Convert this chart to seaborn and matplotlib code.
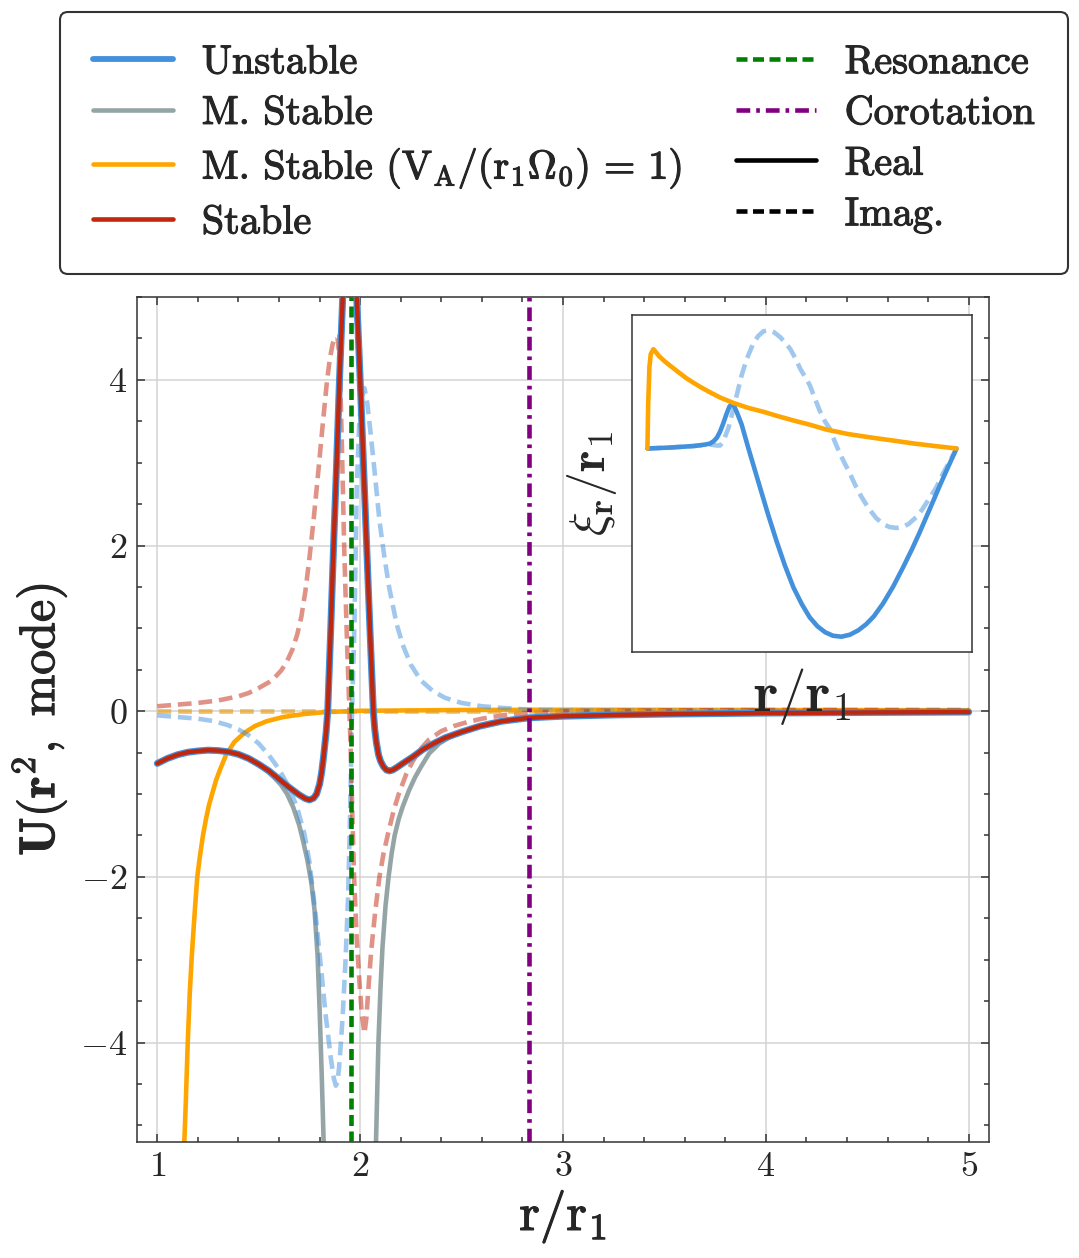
import numpy as np
import matplotlib
matplotlib.use('Agg')
import matplotlib.pyplot as plt
import matplotlib.patheffects as pe
from matplotlib.lines import Line2D
import seaborn as sns

sns.set_style('ticks')
plt.rcParams['font.family'] = ['cmr10', 'DejaVu Serif']
plt.rcParams['mathtext.fontset'] = 'cm'
plt.rcParams['axes.formatter.use_mathtext'] = True
plt.rcParams['axes.unicode_minus'] = True

# -----------------------------------------------------------------------------
# Data
# -----------------------------------------------------------------------------
# real part of the mode, shared by the unstable and stable branches
r_real = [1.00, 1.05, 1.10, 1.15, 1.20, 1.25, 1.30, 1.35, 1.40, 1.45, 1.50, 1.55,
          1.60, 1.65, 1.70, 1.73, 1.75, 1.77, 1.785, 1.80, 1.81, 1.82, 1.832, 1.84,
          1.855, 1.869, 1.884, 1.898, 1.914, 1.93, 1.948, 1.965, 1.983, 2.00, 2.016,
          2.032, 2.048, 2.065, 2.072, 2.08, 2.09, 2.10, 2.115, 2.13, 2.145, 2.16,
          2.18, 2.21, 2.26, 2.31, 2.37, 2.42, 2.50, 2.59, 2.70, 2.83, 3.00, 3.25,
          3.50, 4.00, 4.50, 5.00]
unstable_re = [-0.63, -0.57, -0.525, -0.495, -0.48, -0.47, -0.475, -0.49, -0.52, -0.57,
               -0.64, -0.72, -0.82, -0.92, -1.01, -1.055, -1.07, -1.05, -1.0, -0.88,
               -0.74, -0.54, -0.26, 0.0, 1.0, 2.0, 3.0, 4.0, 5.0, 6.4, 7.2, 6.4, 5.0,
               4.0, 3.0, 2.0, 1.0, 0.0, -0.22, -0.38, -0.52, -0.60, -0.67, -0.71, -0.72,
               -0.71, -0.68, -0.63, -0.55, -0.46, -0.38, -0.32, -0.25, -0.18, -0.12,
               -0.08, -0.06, -0.045, -0.035, -0.022, -0.015, -0.01]
stable_re = list(unstable_re)

r_mstab = [1.00, 1.10, 1.20, 1.30, 1.40, 1.45, 1.50, 1.55, 1.58, 1.61, 1.64, 1.67,
           1.70, 1.72, 1.74, 1.76, 1.775, 1.79, 1.80, 1.81, 1.82, 1.835, 2.07, 2.078,
           2.085, 2.09, 2.10, 2.11, 2.125, 2.14, 2.155, 2.17, 2.19, 2.21, 2.24, 2.27,
           2.30, 2.34, 2.39, 2.45, 2.52, 2.60, 2.70, 2.83, 3.00, 3.50, 4.00, 4.50,
           5.00]
mstab_re = [-0.63, -0.525, -0.48, -0.475, -0.52, -0.57, -0.645, -0.74, -0.81, -0.89,
            -1.0, -1.16, -1.38, -1.58, -1.80, -2.08, -2.4, -2.95, -3.6, -4.35, -5.2,
            -8.0, -8.0, -5.2, -4.5, -4.0, -3.35, -2.85, -2.35, -2.0, -1.72, -1.5,
            -1.3, -1.15, -0.96, -0.80, -0.67, -0.51, -0.39, -0.30, -0.23, -0.17,
            -0.12, -0.08, -0.06, -0.035, -0.022, -0.015, -0.01]

r_va = [1.12, 1.133, 1.14, 1.15, 1.16, 1.17, 1.185, 1.197, 1.21, 1.225, 1.24, 1.255,
        1.27, 1.29, 1.31, 1.34, 1.38, 1.43, 1.48, 1.54, 1.62, 1.72, 1.83, 2.00, 2.50,
        3.00, 4.00, 5.00]
va_re = [-7.5, -5.2, -4.75, -4.0, -3.4, -2.95, -2.4, -2.0, -1.75, -1.5, -1.3, -1.13,
         -1.0, -0.83, -0.7, -0.52, -0.37, -0.26, -0.18, -0.12, -0.07, -0.035, -0.01,
         0.005, 0.015, 0.018, 0.015, 0.012]
r_va_im = [1.00, 5.00]
va_im = [0.0, 0.0]

# imaginary parts
r_stab_im = [1.00, 1.10, 1.20, 1.30, 1.40, 1.45, 1.50, 1.55, 1.58, 1.61, 1.635, 1.667,
             1.69, 1.71, 1.73, 1.75, 1.77, 1.79, 1.815, 1.835, 1.85, 1.865, 1.878,
             1.888, 1.895, 1.902, 1.91, 1.922, 1.935, 1.947, 1.955, 1.962, 1.97, 1.983,
             1.996, 2.008, 2.021, 2.03, 2.042, 2.054, 2.075, 2.095, 2.115, 2.14, 2.165,
             2.19, 2.227, 2.26, 2.30, 2.34, 2.40, 2.46, 2.53, 2.60, 2.70, 2.83, 3.00,
             3.50, 4.00, 5.00]
stable_im = [0.06, 0.08, 0.10, 0.13, 0.18, 0.22, 0.28, 0.35, 0.41, 0.49, 0.58, 0.75,
             0.93, 1.14, 1.45, 1.85, 2.3, 2.8, 3.45, 3.95, 4.25, 4.44, 4.52, 4.52, 4.35,
             3.95, 3.2, 1.9, 0.85, 0.0, -0.6, -1.3, -2.0, -2.75, -3.25, -3.65, -3.89,
             -3.72, -3.3, -2.9, -2.4, -2.0, -1.72, -1.45, -1.2, -1.0, -0.76, -0.6,
             -0.45, -0.34, -0.24, -0.18, -0.13, -0.09, -0.05, -0.02, 0.0, 0.01, 0.015,
             0.015]

r_unst_im = [1.00, 1.10, 1.20, 1.28, 1.35, 1.40, 1.45, 1.50, 1.55, 1.60, 1.65, 1.69,
             1.725, 1.75, 1.78, 1.805, 1.83, 1.855, 1.87, 1.88, 1.888, 1.896, 1.905,
             1.914, 1.928, 1.94, 1.948, 1.955, 1.96, 1.966, 1.972, 1.983, 1.995, 2.005,
             2.021, 2.035, 2.054, 2.075, 2.095, 2.12, 2.144, 2.18, 2.21, 2.25, 2.30,
             2.36, 2.42, 2.50, 2.60, 2.70, 2.83, 3.00, 3.50, 4.00, 5.00]
unstable_im = [-0.05, -0.07, -0.09, -0.12, -0.17, -0.22, -0.29, -0.39, -0.53, -0.70,
               -0.92, -1.17, -1.48, -1.82, -2.45, -3.05, -3.67, -4.18, -4.43, -4.52,
               -4.48, -4.3, -4.0, -3.67, -3.0, -2.27, -1.5, -0.66, 0.0, 0.55, 1.07,
               2.67, 3.45, 3.76, 3.9, 3.72, 3.3, 2.8, 2.3, 1.85, 1.48, 1.05, 0.8, 0.56,
               0.37, 0.24, 0.16, 0.10, 0.06, 0.04, 0.02, 0.01, 0.005, 0.003, 0.0]

r_res = 1.957
r_cor = 2.83

# inset: eigenfunctions xi_r / r_1
r_in_va = [1.00, 1.01, 1.026, 1.043, 1.077, 1.10, 1.15, 1.22, 1.30, 1.383, 1.50, 1.60,
           1.684, 1.80, 1.95, 2.11, 2.30, 2.50, 2.67, 2.90, 3.10, 3.32, 3.60, 3.90,
           4.18, 4.45, 4.72, 5.00]
xi_va = [0.0, 0.45, 0.82, 0.95, 1.0, 0.98, 0.93, 0.88, 0.83, 0.78, 0.71, 0.66, 0.62,
         0.57, 0.51, 0.46, 0.41, 0.37, 0.33, 0.28, 0.24, 0.19, 0.145, 0.11, 0.08, 0.05,
         0.025, 0.0]
r_in = [1.00, 1.30, 1.60, 1.75, 1.81, 1.86, 1.90, 1.94, 1.98, 2.02, 2.06, 2.09, 2.12,
        2.16, 2.22, 2.30, 2.38, 2.46, 2.56, 2.67, 2.78, 2.89, 3.00, 3.10, 3.20, 3.30,
        3.40, 3.51, 3.62, 3.73, 3.83, 3.93, 4.05, 4.18, 4.30, 4.42, 4.52, 4.62, 4.72,
        4.78, 4.86, 4.93, 5.00]
xi_re = [0.0, 0.01, 0.025, 0.04, 0.05, 0.075, 0.11, 0.17, 0.25, 0.34, 0.42, 0.45, 0.43,
         0.36, 0.24, 0.02, -0.19, -0.40, -0.66, -0.93, -1.18, -1.40, -1.57, -1.70,
         -1.79, -1.85, -1.885, -1.895, -1.875, -1.83, -1.77, -1.69, -1.56, -1.39,
         -1.21, -1.02, -0.85, -0.67, -0.49, -0.38, -0.24, -0.12, 0.0]
r_in_im = [1.00, 1.30, 1.60, 1.81, 1.90, 1.94, 1.98, 2.02, 2.05, 2.10, 2.16, 2.22, 2.29,
           2.36, 2.43, 2.50, 2.57, 2.64, 2.72, 2.79, 2.85, 2.92, 2.98, 3.04, 3.10, 3.17,
           3.23, 3.30, 3.36, 3.43, 3.49, 3.56, 3.62, 3.69, 3.75, 3.82, 3.88, 3.96, 4.05,
           4.13, 4.22, 4.30, 4.38, 4.48, 4.56, 4.65, 4.74, 4.82, 4.91, 5.00]
xi_im = [0.0, 0.01, 0.025, 0.04, 0.03, 0.03, 0.07, 0.15, 0.21, 0.36, 0.55, 0.74, 0.91,
         1.04, 1.13, 1.18, 1.19, 1.17, 1.12, 1.06, 1.0, 0.9, 0.8, 0.72, 0.64, 0.5,
         0.38, 0.27, 0.2, 0.06, -0.05, -0.16, -0.25, -0.37, -0.46, -0.55, -0.62, -0.70,
         -0.76, -0.79, -0.80, -0.79, -0.76, -0.69, -0.61, -0.50, -0.39, -0.26, -0.13,
         0.0]

# -----------------------------------------------------------------------------
# Styling
# -----------------------------------------------------------------------------
c_unst = '#4391dc'
c_mstab = '#95a5a6'
c_va = '#ffa500'
c_stab = '#c1270c'
c_res = 'green'
c_cor = 'purple'
dark = '#333333'
imdash = (3.0, 1.5)
heavy = [pe.withStroke(linewidth=0.8, foreground='#222222')]

fig = plt.figure(figsize=(10.79, 12.58), dpi=100)
ax = fig.add_axes([0.127, 0.0922, 0.7896, 0.6717])

kw = dict(ax=ax, estimator=None, sort=False, legend=False)
sns.lineplot(x=r_mstab, y=mstab_re, color=c_mstab, lw=3.3, zorder=2,
             solid_capstyle='round', **kw)
sns.lineplot(x=r_va, y=va_re, color=c_va, lw=3.3, zorder=2.1,
             solid_capstyle='round', **kw)
sns.lineplot(x=r_unst_im, y=unstable_im, color=c_unst, lw=3.3, alpha=0.5,
             zorder=2.2, **kw)
ax.lines[-1].set_dashes(imdash)
sns.lineplot(x=r_stab_im, y=stable_im, color=c_stab, lw=3.3, alpha=0.5,
             zorder=2.3, **kw)
ax.lines[-1].set_dashes(imdash)
sns.lineplot(x=r_va_im, y=va_im, color='#e8a020', lw=3.3, alpha=0.7, zorder=2.4, **kw)
ax.lines[-1].set_dashes(imdash)
sns.lineplot(x=r_real, y=unstable_re, color=c_unst, lw=5.0, zorder=3,
             solid_capstyle='round', **kw)
sns.lineplot(x=r_real, y=stable_re, color=c_stab, lw=3.2, zorder=3.1,
             solid_capstyle='round', **kw)

ax.axvline(r_res, color=c_res, lw=3.3, dashes=(2.4, 1.2), zorder=3.5)
ax.axvline(r_cor, color=c_cor, lw=3.3, dashes=(3.0, 1.3, 0.8, 1.3), zorder=3.5)

ax.set_xlim(0.9, 5.1)
ax.set_ylim(-5.2, 5.0)
ax.set_xticks([1, 2, 3, 4, 5])
ax.set_yticks([-4, -2, 0, 2, 4])
ax.set_xticks(np.arange(1.0, 5.01, 0.2), minor=True)
ax.set_yticks(np.arange(-5.0, 5.01, 0.5), minor=True)
ax.grid(True, which='major', color='#d3d3d3', lw=1.1, zorder=0)
ax.tick_params(which='both', direction='in', top=True, right=True,
               color=dark, width=1.1, labelsize=26, pad=7)
ax.tick_params(which='major', length=6)
ax.tick_params(which='minor', length=3.5)
for s in ax.spines.values():
    s.set_color(dark)
    s.set_linewidth(1.1)

ax.set_xlabel(r'$\mathrm{r/r_1}$', fontsize=38, labelpad=4)
ax.set_ylabel(r'$\mathbf{U}(\mathbf{r}^{\mathbf{2}},\ \mathrm{mode})$', fontsize=36,
              labelpad=8)
ax.xaxis.label.set_path_effects(heavy)
ax.yaxis.label.set_path_effects(heavy)

# inset
axi = fig.add_axes([0.5857, 0.4817, 0.3151, 0.2679], zorder=5)
axi.set_facecolor('white')
sns.lineplot(x=r_in_im, y=xi_im, ax=axi, color=c_unst, lw=3.3, alpha=0.5,
             estimator=None, sort=False, legend=False)
axi.lines[-1].set_dashes(imdash)
sns.lineplot(x=r_in, y=xi_re, ax=axi, color=c_unst, lw=3.3, estimator=None,
             sort=False, legend=False, solid_capstyle='round')
sns.lineplot(x=r_in_va, y=xi_va, ax=axi, color=c_va, lw=3.3, estimator=None,
             sort=False, legend=False, solid_capstyle='round')
axi.set_xticks([])
axi.set_yticks([])
axi.grid(False)
for s in axi.spines.values():
    s.set_color(dark)
    s.set_linewidth(1.1)
axi.set_xlabel(r'$\mathbf{r/r_1}$', fontsize=41, labelpad=10)
axi.set_ylabel(r'$\xi_\mathbf{r}/\mathbf{r_1}$', fontsize=36, labelpad=9)

# legend
handles = [
    Line2D([], [], color=c_unst, lw=4.2),
    Line2D([], [], color=c_mstab, lw=3.3),
    Line2D([], [], color=c_va, lw=3.3),
    Line2D([], [], color=c_stab, lw=3.3),
    Line2D([], [], color=c_res, lw=3.3, dashes=(2.4, 1.2)),
    Line2D([], [], color=c_cor, lw=3.3, dashes=(3.0, 1.3, 0.8, 1.3)),
    Line2D([], [], color='black', lw=3.3),
    Line2D([], [], color='black', lw=3.3, dashes=(2.4, 1.2)),
]
labels = ['Unstable', 'M. Stable',
          r'M. Stable $\mathrm{(V_A/(r_1\Omega_0)\,=\,1)}$',
          'Stable', 'Resonance', 'Corotation', 'Real', 'Imag.']
leg = fig.legend(handles, labels, loc='upper left', ncol=2, mode='expand',
                 bbox_to_anchor=(0.0556, 0.7838, 0.934, 0.2067), fontsize=29,
                 frameon=True, fancybox=True, borderpad=0.82, labelspacing=0.36,
                 handlelength=1.98, handletextpad=0.72, borderaxespad=0)
leg.get_frame().set_edgecolor(dark)
leg.get_frame().set_linewidth(1.5)
leg.get_frame().set_alpha(1)
for t in leg.get_texts():
    t.set_path_effects(heavy)

fig.savefig('out.png', dpi=100)
